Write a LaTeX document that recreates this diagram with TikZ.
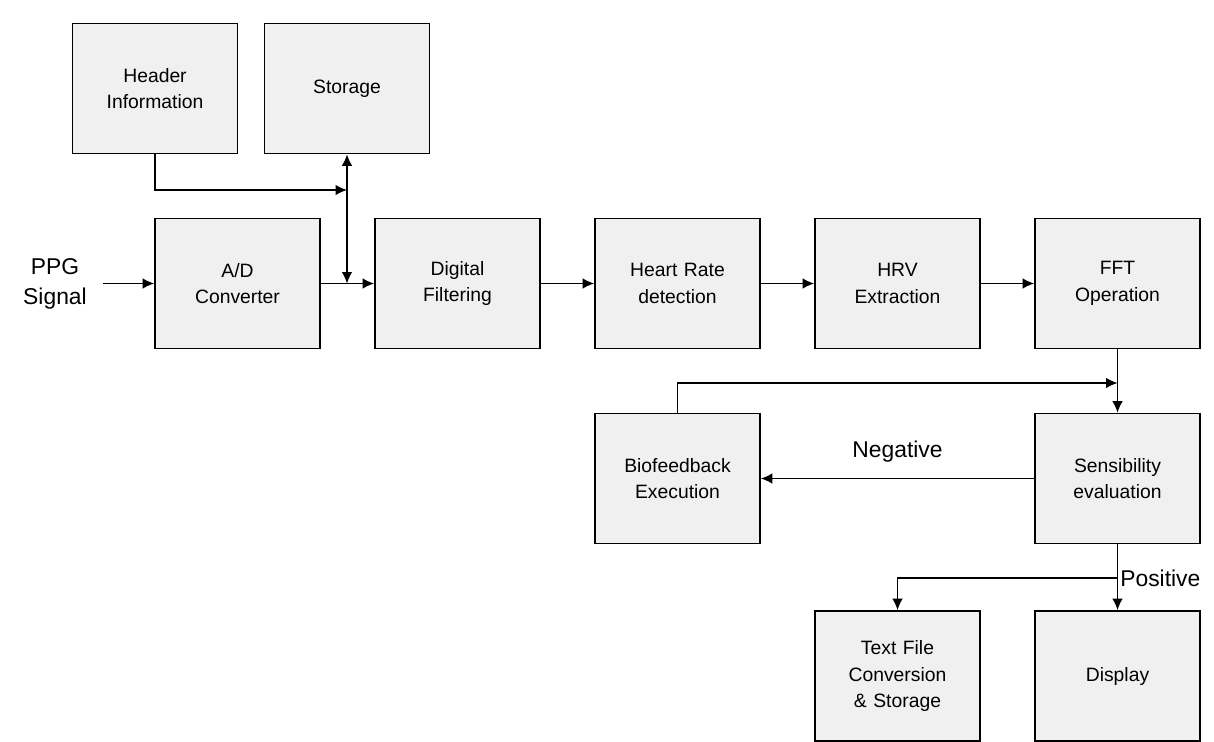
\documentclass[tikz,border=0pt]{standalone}
\usepackage{fontspec}
\setmainfont{Liberation Sans}
\usepackage{tikz}
\usetikzlibrary{arrows.meta}
\tikzstyle{block} = [rectangle, 
minimum width=3.3cm, 
minimum height=2.6cm, 
text centered, 
text width=3cm, 
draw=black, 
line width=1pt,
fill=black!6,
font=\fontsize{11}{15}\selectfont]
\tikzstyle{biglabel} = [align=center, font=\fontsize{13}{17}\selectfont]
\tikzstyle{arrow} = [line width=0.8pt,->,>={Latex[length=6.5pt,width=6pt]}]

\begin{document}
\begin{tikzpicture}[node distance=4.4cm]
\useasboundingbox (0,0) rectangle (24.28,-14.84);

\node (ad) [block] at (4.75,-5.67) {A/D\\Converter};
\node (filter) [block, right of=ad] {Digital\\Filtering};
\node (heart) [block, right of=filter] {Heart Rate\\detection};
\node (hrv) [block, right of=heart] {HRV\\Extraction};
\node (fft) [block, right of=hrv] {FFT\\Operation};

\node (header) [block, above of=ad, node distance=3.9cm, xshift=-1.65cm] {Header\\Information};
\node (storage) [block, right of=header, node distance=3.84cm] {Storage};

\node (ppg) [biglabel, inner xsep=0.32cm, left of=ad, node distance=3.65cm] {PPG\\Signal};

\node (sens) [block, below of=fft, node distance=3.9cm] {Sensibility\\evaluation};
\node (bio) [block, left of=sens, node distance=8.8cm] {Biofeedback\\Execution};
\node (display) [block, below of=sens, node distance=3.95cm] {Display};
\node (textfile) [block, left of=display] {Text File\\Conversion\\\& Storage};

\coordinate (hdrjoin) at (storage.south |- 0,-3.8);
\coordinate (busjoin) at (storage.south |- ad.east);
\coordinate (loopend) at (fft.south |- 0,-7.66);
\coordinate (posjoin) at (sens.south |- 0,-11.56);

\draw [arrow] (ppg) -- (ad);
\draw [arrow] (ad) -- (filter);
\draw [arrow] (filter) -- (heart);
\draw [arrow] (heart) -- (hrv);
\draw [arrow] (hrv) -- (fft);
\draw [arrow] (header.south) |- (hdrjoin);
\draw [arrow, <->] (storage.south) -- (busjoin);
\draw [arrow] (fft.south) -- (sens.north);
\draw [arrow] (bio.north) |- (loopend);
\draw [arrow] (sens.west) -- node[biglabel, above=0.2cm] {Negative} (bio.east);
\draw [arrow] (sens.south) -- (display.north);
\draw [arrow] (posjoin) -| (textfile.north);
\node (pos) [biglabel, anchor=west, inner xsep=0.05cm] at (posjoin) {Positive};

\end{tikzpicture}
\end{document}
